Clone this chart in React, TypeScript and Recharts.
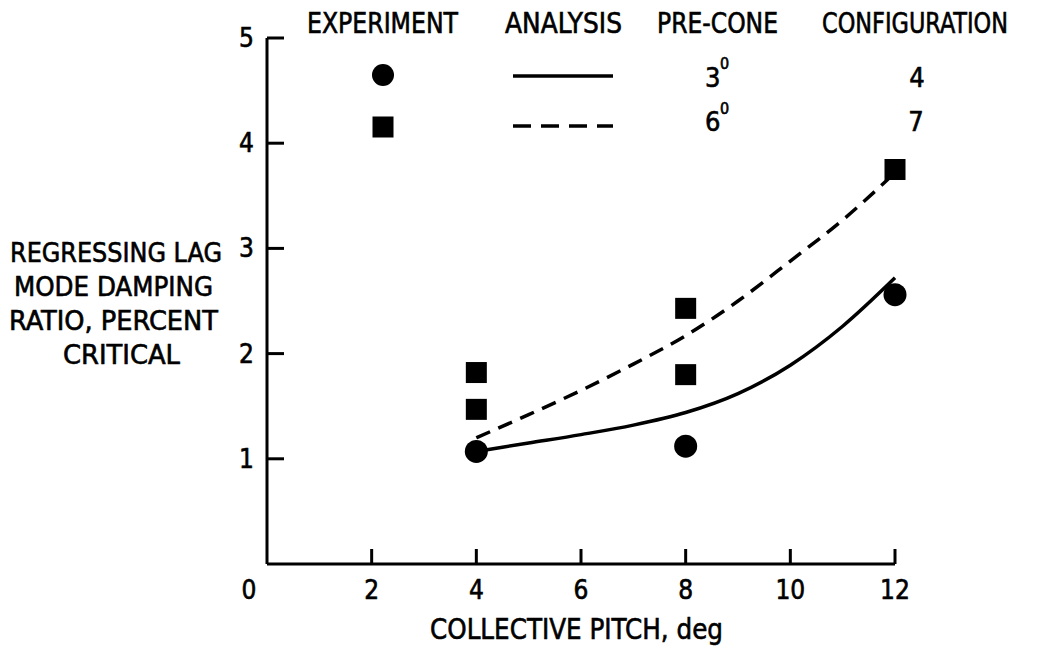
import React from 'react';
import { ComposedChart, XAxis, YAxis, Scatter, Line } from 'recharts';

const xTicks = [0, 2, 4, 6, 8, 10, 12];
const yTicks = [1, 2, 3, 4, 5];

// Experiment, 3 deg pre-cone (configuration 4)
const circlePitch = [4, 8, 12];
const circleDamping = [1.07, 1.12, 2.56];

// Experiment, 6 deg pre-cone (configuration 7)
const squarePitch = [4, 4, 8, 8, 12];
const squareDamping = [1.82, 1.47, 2.43, 1.8, 3.75];

// Analysis curves
const curvePitch = [4, 5, 6, 7, 8, 9, 10, 11, 12];
const solidDamping = [1.07, 1.15, 1.23, 1.32, 1.44, 1.62, 1.89, 2.26, 2.72];
const dashedDamping = [1.2, 1.42, 1.65, 1.9, 2.17, 2.5, 2.88, 3.27, 3.72];

const circleData = circlePitch.map((x, i) => ({ x, y: circleDamping[i] }));
const squareData = squarePitch.map((x, i) => ({ x, y: squareDamping[i] }));
const solidData = curvePitch.map((x, i) => ({ x, y: solidDamping[i] }));
const dashedData = curvePitch.map((x, i) => ({ x, y: dashedDamping[i] }));

const FONT = "'Liberation Sans Narrow', 'DejaVu Sans Condensed', 'Roboto Condensed', sans-serif";
const FS = 27;
const TXT = { fontFamily: FONT, fill: '#000', stroke: '#000', strokeWidth: 0.6 };

const YTick = (props: any) => {
  const { x, y, payload } = props;
  return (
    <g>
      <line x1={x} x2={x + 17} y1={y} y2={y} stroke="#000" strokeWidth={3} />
      <text x={x - 13} y={y + 9} textAnchor="end" fontSize={26} {...TXT}>
        {payload.value}
      </text>
    </g>
  );
};

const XTick = (props: any) => {
  const { x, y, payload } = props;
  const isZero = payload.value === 0;
  return (
    <g>
      {!isZero && <line x1={x} x2={x} y1={y} y2={y - 15} stroke="#000" strokeWidth={3} />}
      <text x={isZero ? x - 18 : x} y={y + 35} textAnchor="middle" fontSize={26} {...TXT}>
        {payload.value}
      </text>
    </g>
  );
};

const CircleShape = (props: any) => <circle cx={props.cx} cy={props.cy} r={11.5} fill="#000" />;
const SquareShape = (props: any) => (
  <rect x={props.cx - 10.5} y={props.cy - 10.5} width={21} height={21} fill="#000" />
);

const T = (p: { x: number; y: number; w?: number; s?: number; children: React.ReactNode }) => (
  <text
    x={p.x}
    y={p.y}
    fontSize={p.s ?? FS}
    {...TXT}
    textLength={p.w}
    lengthAdjust={p.w ? 'spacingAndGlyphs' : undefined}
  >
    {p.children}
  </text>
);

export default function App() {
  return (
    <div style={{ position: 'absolute', left: 0, top: 0, width: 1043, height: 646, background: '#fff' }}>
      <ComposedChart
        width={1043}
        height={646}
        margin={{ top: 38, right: 148, bottom: 81, left: 266 }}
      >
        <XAxis
          type="number"
          dataKey="x"
          domain={[0, 12]}
          ticks={xTicks}
          height={1}
          tickSize={0}
          tickMargin={0}
          tickLine={false}
          axisLine={{ stroke: '#000', strokeWidth: 3 }}
          tick={XTick}
          interval={0}
        />
        <YAxis
          type="number"
          dataKey="y"
          domain={[0, 5]}
          ticks={yTicks}
          width={1}
          tickSize={0}
          tickMargin={0}
          tickLine={false}
          axisLine={{ stroke: '#000', strokeWidth: 3 }}
          tick={YTick}
          interval={0}
        />
        <Line
          data={solidData}
          dataKey="y"
          type="monotone"
          stroke="#000"
          strokeWidth={3.5}
          dot={false}
          activeDot={false}
          isAnimationActive={false}
        />
        <Line
          data={dashedData}
          dataKey="y"
          type="monotone"
          stroke="#000"
          strokeWidth={3.5}
          strokeDasharray="15 9"
          dot={false}
          activeDot={false}
          isAnimationActive={false}
        />
        <Scatter data={circleData} dataKey="y" shape={CircleShape} isAnimationActive={false} />
        <Scatter data={squareData} dataKey="y" shape={SquareShape} isAnimationActive={false} />
      </ComposedChart>
      <svg
        width={1043}
        height={646}
        style={{ position: 'absolute', left: 0, top: 0, pointerEvents: 'none' }}
      >
        {/* legend headers */}
        <T x={307} y={33} w={151} s={28}>EXPERIMENT</T>
        <T x={505} y={33} w={117} s={28}>ANALYSIS</T>
        <T x={657} y={33} w={121} s={28}>PRE-CONE</T>
        <T x={822} y={33} w={186} s={28}>CONFIGURATION</T>
        {/* row 1 */}
        <circle cx={383} cy={75} r={11} fill="#000" />
        <line x1={513} x2={613} y1={76} y2={76} stroke="#000" strokeWidth={3.5} />
        <T x={705} y={87}>3</T>
        <T x={720} y={69} s={16}>0</T>
        <text x={917} y={87} textAnchor="middle" fontSize={FS} {...TXT}>4</text>
        {/* row 2 */}
        <rect x={372.5} y={116.5} width={21} height={21} fill="#000" />
        <line x1={513} x2={613} y1={126} y2={126} stroke="#000" strokeWidth={3.5} strokeDasharray="18 10" />
        <T x={705} y={131}>6</T>
        <T x={720} y={114} s={16}>0</T>
        <text x={916} y={131} textAnchor="middle" fontSize={FS} {...TXT}>7</text>
        {/* y axis title */}
        <T x={10} y={262} w={212} s={27}>REGRESSING LAG</T>
        <T x={14} y={296} w={199} s={27}>MODE DAMPING</T>
        <T x={9} y={330} w={209} s={27}>RATIO, PERCENT</T>
        <T x={63} y={364} w={117} s={27}>CRITICAL</T>
        {/* x axis title */}
        <T x={430} y={639} w={293} s={29}>COLLECTIVE PITCH, deg</T>
      </svg>
    </div>
  );
}
